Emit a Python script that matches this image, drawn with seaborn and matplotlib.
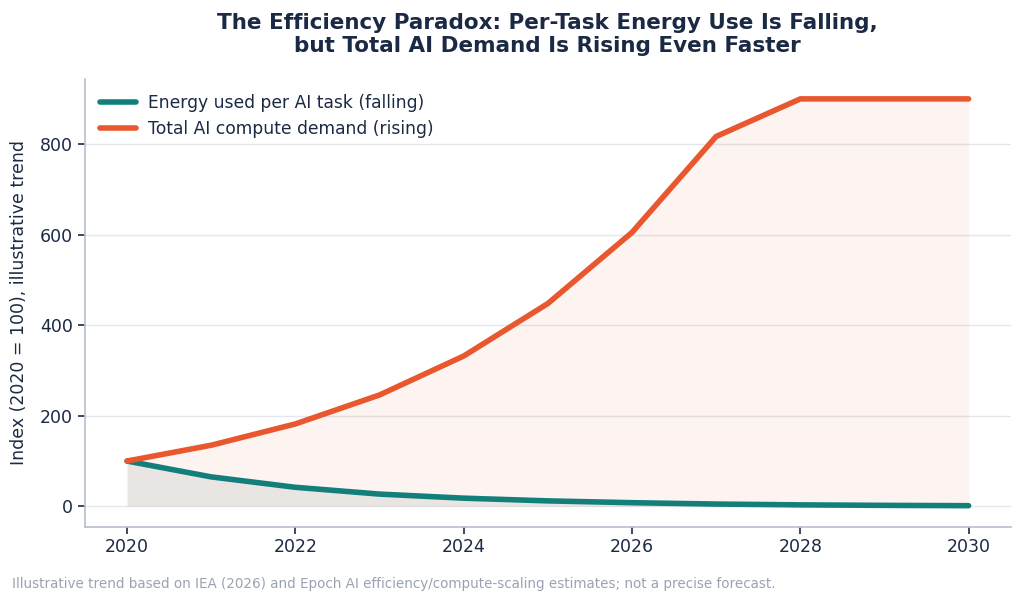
import matplotlib
matplotlib.use("Agg")
import matplotlib.pyplot as plt
import seaborn as sns
import pandas as pd

years = [2020, 2021, 2022, 2023, 2024, 2025, 2026, 2027, 2028, 2029, 2030]
energy_per_task = [100, 65, 42, 27, 18, 12, 8, 5, 3.2, 2.1, 1.4]
total_demand = [100, 135, 182, 246, 332, 448, 605, 817, 900, 900, 900]
label_energy = "Energy used per AI task (falling)"
label_demand = "Total AI compute demand (rising)"

sns.set_theme(style="white")
plt.rcParams['font.family'] = ['DejaVu Sans']

teal = "#127f7a"
orange = "#e8572d"
navy = "#1b2a44"
spine_c = "#b7bfcc"

df = pd.DataFrame({"year": years, "energy": energy_per_task, "demand": total_demand})

fig, ax = plt.subplots(figsize=(10.24, 6.04), dpi=100)
fig.subplots_adjust(left=0.083, right=0.987, top=0.87, bottom=0.128)

ax.fill_between(df["year"], 0, df["demand"], color=orange, alpha=0.07, linewidth=0)
ax.fill_between(df["year"], 0, df["energy"], color="#dcdcda", alpha=0.6, linewidth=0)
sns.lineplot(data=df, x="year", y="energy", ax=ax, color=teal, linewidth=4, label=label_energy)
sns.lineplot(data=df, x="year", y="demand", ax=ax, color=orange, linewidth=4, label=label_demand)

ax.set_xlim(2019.5, 2030.5)
ax.set_ylim(-45, 945)
ax.set_xticks([2020, 2022, 2024, 2026, 2028, 2030])
ax.set_yticks([0, 200, 400, 600, 800])
ax.yaxis.grid(True, color="#e3e7ee", linewidth=1)
ax.xaxis.grid(False)
ax.set_axisbelow(True)
for s in ["top", "right"]:
    ax.spines[s].set_visible(False)
for s in ["left", "bottom"]:
    ax.spines[s].set_color(spine_c)
    ax.spines[s].set_linewidth(1.2)
ax.tick_params(axis="both", colors=navy, labelsize=12.5, length=5, width=1.2, left=True, bottom=True)
ax.tick_params(axis="both", labelcolor=navy)
ax.set_xlabel("")
ax.set_ylabel("Index (2020 = 100), illustrative trend", fontsize=12.5, color=navy, labelpad=9)

leg = ax.legend(loc="upper left", frameon=False, fontsize=12.3, handlelength=2.1,
                handletextpad=0.7, borderaxespad=0.5)
for t in leg.get_texts():
    t.set_color(navy)

ax.set_title("The Efficiency Paradox: Per-Task Energy Use Is Falling,\nbut Total AI Demand Is Rising Even Faster",
             fontsize=15.5, fontweight="bold", color=navy, pad=19)
fig.text(0.012, 0.027, "Illustrative trend based on IEA (2026) and Epoch AI efficiency/compute-scaling estimates; not a precise forecast.",
         fontsize=9.75, color="#9aa3b2")

fig.savefig("out.png", dpi=100)
